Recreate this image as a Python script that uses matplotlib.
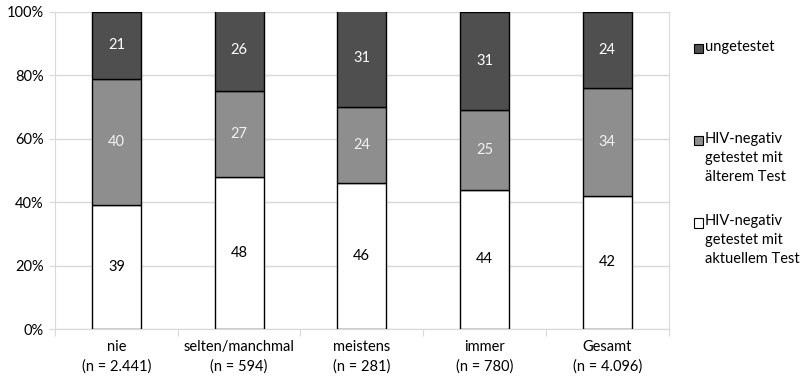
import matplotlib
matplotlib.use('Agg')
import matplotlib.pyplot as plt
import numpy as np
from matplotlib.patches import Rectangle

plt.rcParams['font.family'] = ['Lato', 'DejaVu Sans']

categories = ['nie\n(n = 2.441)', 'selten/manchmal\n(n = 594)', 'meistens\n(n = 281)',
              'immer\n(n = 780)', 'Gesamt\n(n = 4.096)']
aktuell = [39, 48, 46, 44, 42]
aelter = [40, 27, 24, 25, 34]
ungetestet = [21, 26, 31, 31, 24]

series = [
    (aktuell, '#ffffff', 'black', 'HIV-negativ\ngetestet mit\naktuellem Test'),
    (aelter, '#8e8e8e', '#f2f2f2', 'HIV-negativ\ngetestet mit\nälterem Test'),
    (ungetestet, '#4f4f4f', 'white', 'ungetestet'),
]

fig = plt.figure(figsize=(8.01, 3.77), dpi=100)
ax = fig.add_axes([0.0687, 0.1273, 0.766, 0.841])

x = np.arange(len(categories))
bottom = np.zeros(len(categories))
for vals, color, tcolor, label in series:
    vals = np.array(vals, dtype=float)
    ax.bar(x, vals, 0.4, bottom=bottom, color=color, edgecolor='black',
           linewidth=1.0, zorder=3)
    for xi, b, v in zip(x, bottom, vals):
        ax.text(xi, b + v / 2, f'{int(v)}', ha='center', va='center',
                color=tcolor, fontsize=10.5, zorder=4)
    bottom += vals

ax.set_xlim(-0.5, len(categories) - 0.5)
ax.set_ylim(0, 100)
ax.set_yticks([0, 20, 40, 60, 80, 100])
ax.set_yticklabels(['0%', '20%', '40%', '60%', '80%', '100%'], fontsize=10.5)
ax.yaxis.grid(True, color='#d9d9d9', linewidth=1.0, zorder=0)

# category separators as major ticks, labels on minor ticks
ax.set_xticks(np.arange(len(categories) + 1) - 0.5)
ax.set_xticklabels([])
ax.set_xticks(x, minor=True)
ax.set_xticklabels(categories, minor=True, fontsize=10.5, linespacing=1.45)
ax.tick_params(axis='x', which='major', length=5, color='#d9d9d9')
ax.tick_params(axis='x', which='minor', length=0, pad=8)
ax.tick_params(axis='y', length=4, color='#d9d9d9', pad=4)

for s in ['left', 'bottom', 'right']:
    ax.spines[s].set_color('#d9d9d9')
ax.spines['top'].set_visible(False)

# legend drawn by hand to match the uneven spacing
legend_pos = [(0.866, 0.872), (0.866, 0.628), (0.866, 0.41)]
for (vals, color, tcolor, label), (lx, ly) in zip(series[::-1], legend_pos):
    fig.patches.append(Rectangle((lx, ly - 0.0135), 0.0112, 0.024, facecolor=color,
                                 edgecolor='black', linewidth=0.8,
                                 transform=fig.transFigure, figure=fig))
    fig.text(lx + 0.014, ly + 0.022, label, ha='left', va='top', fontsize=10.5,
             linespacing=1.45)

fig.savefig('out.png', dpi=100)
